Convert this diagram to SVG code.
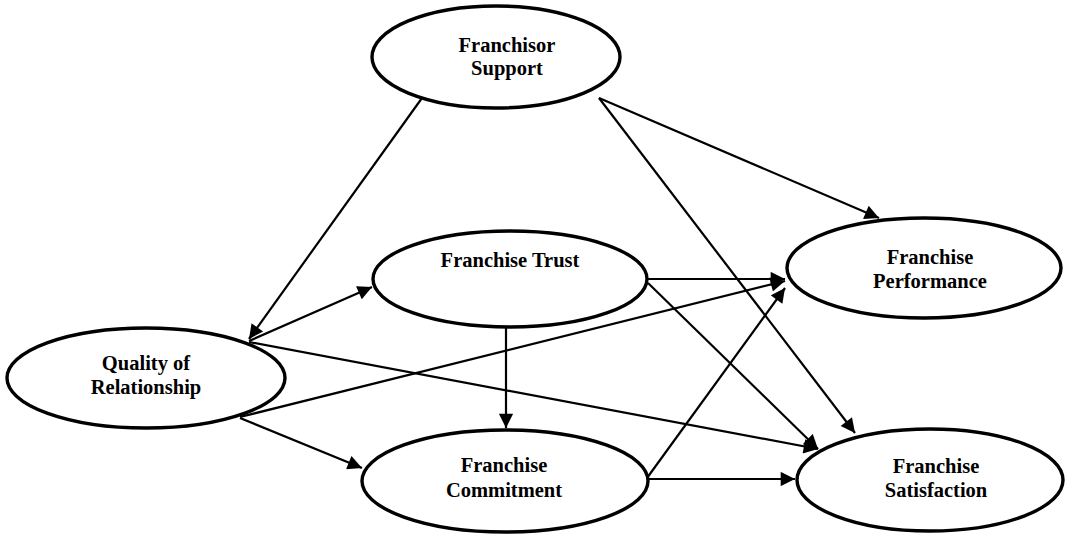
<svg xmlns="http://www.w3.org/2000/svg" width="1067" height="534" viewBox="0 0 1067 534">
<style>
.node{fill:#fff;stroke:#000;stroke-width:3.4}
.lbl{font-family:"Liberation Serif","Times New Roman",serif;font-weight:bold;font-size:20.5px;fill:#000;text-anchor:middle}
.edge{stroke:#000;stroke-width:2.2;fill:none;marker-end:url(#ah)}
</style>
<defs>
<marker id="ah" viewBox="0 0 10 10" refX="10" refY="5" markerWidth="7.5" markerHeight="6.5" markerUnits="strokeWidth" orient="auto">
<path d="M0,0 L10,5 L0,10 z" fill="#000"/>
</marker>
</defs>
<rect width="1067" height="534" fill="#fff"/>
<g id="connectors">
<line class="edge" x1="422" y1="98" x2="249" y2="339"/>
<line class="edge" x1="249" y1="341" x2="372" y2="287"/>
<line class="edge" x1="249" y1="342" x2="818" y2="449"/>
<line class="edge" x1="240" y1="417" x2="785" y2="281"/>
<line class="edge" x1="240" y1="418" x2="362" y2="468"/>
<line class="edge" x1="506" y1="328" x2="506" y2="428"/>
<line class="edge" x1="648" y1="279" x2="785" y2="279"/>
<line class="edge" x1="648" y1="283" x2="818" y2="449"/>
<line class="edge" x1="599" y1="98" x2="879" y2="218"/>
<line class="edge" x1="599" y1="98" x2="855" y2="433"/>
<line class="edge" x1="647" y1="478" x2="785" y2="288"/>
<line class="edge" x1="648" y1="479" x2="795" y2="479"/>
</g>
<g id="franchisor-support">
<ellipse class="node" cx="496" cy="57" rx="124" ry="51"/>
<text class="lbl" x="507" y="52">Franchisor</text>
<text class="lbl" x="507" y="75">Support</text>
</g>
<g id="franchise-trust">
<ellipse class="node" cx="510" cy="279" rx="137" ry="48"/>
<text class="lbl" x="510" y="267">Franchise Trust</text>
</g>
<g id="quality-of-relationship">
<ellipse class="node" cx="146" cy="378" rx="139" ry="50"/>
<text class="lbl" x="146" y="370">Quality of</text>
<text class="lbl" x="146" y="394">Relationship</text>
</g>
<g id="franchise-commitment">
<ellipse class="node" cx="505" cy="481" rx="143" ry="51"/>
<text class="lbl" x="504" y="472">Franchise</text>
<text class="lbl" x="504" y="497">Commitment</text>
</g>
<g id="franchise-performance">
<ellipse class="node" cx="924" cy="268" rx="137" ry="50"/>
<text class="lbl" x="930" y="264">Franchise</text>
<text class="lbl" x="930" y="288">Performance</text>
</g>
<g id="franchise-satisfaction">
<ellipse class="node" cx="930" cy="480" rx="133" ry="51"/>
<text class="lbl" x="936" y="473">Franchise</text>
<text class="lbl" x="936" y="497">Satisfaction</text>
</g>
</svg>
